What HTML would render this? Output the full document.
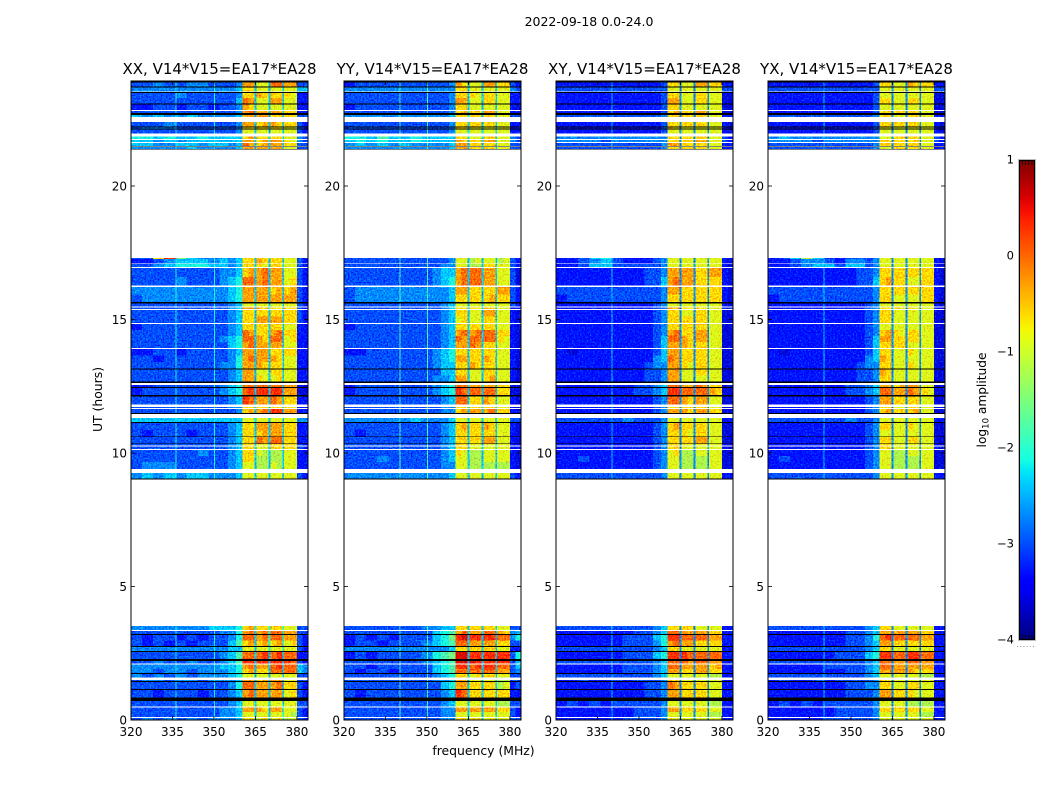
<!DOCTYPE html>
<html lang="en">
<head>
<meta charset="utf-8">
<title>2022-09-18 0.0-24.0</title>
<style>
html,body{margin:0;padding:0;background:#fff;}
#chart{display:block;font-family:"DejaVu Sans","Liberation Sans",sans-serif;fill:#000;}
</style>
</head>
<body>
<svg id="chart" xmlns="http://www.w3.org/2000/svg" width="1050" height="800" viewBox="0 0 1050 800">
<defs>
<filter id="grain" color-interpolation-filters="sRGB" x="0" y="0" width="100%" height="100%">
<feTurbulence type="fractalNoise" baseFrequency="0.62" numOctaves="1" seed="4" result="t"/>
<feColorMatrix in="t" type="matrix" values="0 0 0 0 0.5  1 0 0 0 0  0 0 0 0 0.5  0 0 0 0 1" result="g"/>
<feComposite in="SourceGraphic" in2="g" operator="arithmetic" k1="0" k2="1" k3="1.1" k4="-0.55" result="m"/>
<feComposite in="m" in2="SourceGraphic" operator="in"/>
</filter>
<linearGradient id="jet-gradient" x1="0" y1="1" x2="0" y2="0"></linearGradient>
</defs>
<text x="589" y="26" font-size="12.5" text-anchor="middle">2022-09-18 0.0-24.0</text>
<text x="0" y="0" font-size="12.4" text-anchor="middle" transform="translate(102,399.5) rotate(-90)">UT (hours)</text>
<text x="483.5" y="755" font-size="12.4" text-anchor="middle">frequency (MHz)</text>
<g id="panels"></g>
<g id="colorbar"></g>
<text font-size="12.2" text-anchor="middle" transform="translate(986,400) rotate(-90)">log<tspan font-size="8.5" dy="2.5">10</tspan><tspan dy="-2.5"> amplitude</tspan></text>
</svg>
<script>
// Axis data
const freqEdges=[320,324,328,332,336,340,344,348,352,355,358,360.4,362.5,364.7,365.4,367.6,369.8,370.5,372.6,374.7,375.4,377.7,380,382,384];
const utStart=[0,.11,.30,.50,.84,1.16,1.46,1.59,1.76,1.91,2.12,2.28,2.58,2.77,2.98,3.22,3.37,
9.05,9.40,9.66,9.89,10.15,10.29,10.36,10.62,10.86,11.16,11.50,11.69,11.82,12.17,12.47,12.67,12.90,13.17,13.41,13.65,13.93,14.16,14.38,14.61,14.87,15.11,15.39,15.48,15.66,15.94,16.27,16.59,16.97,17.10,17.26,
21.39,21.49,21.65,21.76,21.96,22.15,22.22,22.58,22.73,22.85,23.09,23.30,23.53,23.72];
const utEnd=[.07,.30,.47,.71,1.12,1.42,1.50,1.72,1.91,2.08,2.21,2.55,2.73,2.98,3.18,3.34,3.52,
9.25,9.66,9.89,10.12,10.25,10.34,10.59,10.86,11.12,11.32,11.64,11.72,12.12,12.43,12.55,12.90,13.13,13.41,13.65,13.90,14.16,14.38,14.61,14.83,15.11,15.36,15.45,15.60,15.94,16.22,16.59,16.93,17.08,17.26,17.30,
21.46,21.61,21.72,21.85,22.12,22.19,22.39,22.66,22.81,23.06,23.30,23.48,23.68,23.87];
const flagStart=[.71,1.12,1.42,1.72,2.21,2.55,2.73,3.18,9.01,10.34,10.59,11.12,11.46,12.12,12.43,12.63,13.13,15.60,21.36,21.46,22.12,22.19,22.66,23.06,23.48,23.68,23.87];
const flagEnd=[.84,1.16,1.46,1.76,2.28,2.58,2.77,3.22,9.05,10.36,10.62,11.16,11.50,12.17,12.47,12.67,13.17,15.66,21.39,21.48,22.15,22.22,22.73,23.09,23.52,23.72,23.93];
const xTicks=[320,335,350,365,380];
const yTicks=[0,5,10,15,20];
const colorbarTicks=[1,0,-1,-2,-3,-4];
const panelTitles=["XX, V14*V15=EA17*EA28","YY, V14*V15=EA17*EA28","XY, V14*V15=EA17*EA28","YX, V14*V15=EA17*EA28"];
const rfiXX=[336,350];
const rfiYY=[340,350];
const rfiXY=[340];
const rfiYX=[340];
// Amplitude levels: log10 amplitude = -3.9 + 0.3 * level. One row per UT bin, one value per frequency bin.
const ampXX=[
[3,4,3,4,3,4,3,4,4,4,5,11,11,5,10,11,5,10,11,6,9,10,3,2],
[3,3,3,3,3,3,3,3,4,4,5,10,10,5,10,10,5,10,10,6,10,9,3,2],
[3,3,3,3,3,3,3,3,4,4,5,12,12,5,12,11,5,12,12,6,10,10,3,2],
[3,3,3,3,3,3,3,3,3,4,5,10,10,5,10,10,5,10,10,5,10,10,3,3],
[3,3,2,3,3,3,2,3,3,4,5,12,13,5,12,12,5,12,12,5,10,11,3,2],
[3,3,3,3,3,3,3,3,3,4,6,13,13,5,12,12,5,12,13,5,11,11,3,2],
[3,4,4,3,4,4,3,4,4,4,5,12,12,5,11,12,5,12,12,5,10,10,3,3],
[4,3,4,3,4,3,4,4,4,5,6,10,10,5,10,10,5,10,10,5,10,10,3,3],
[4,4,3,4,4,3,4,4,4,5,6,11,12,5,11,11,5,13,13,5,13,13,5,4],
[4,4,4,4,4,4,4,4,5,5,6,12,13,5,12,12,5,13,14,5,13,13,5,4],
[3,3,4,3,3,4,3,3,4,5,7,14,14,5,14,14,5,14,14,5,14,13,3,2],
[3,3,3,3,3,3,3,3,4,5,7,13,13,5,13,14,5,13,14,5,13,13,2,2],
[4,4,4,4,4,4,4,4,4,5,5,10,10,5,10,10,6,10,10,6,10,10,3,2],
[3,2,3,2,3,2,3,3,3,5,7,11,12,5,11,12,6,11,12,6,10,11,3,2],
[3,2,3,3,2,3,2,3,3,4,6,13,13,5,12,13,6,13,13,6,12,12,3,2],
[3,3,3,3,3,3,3,3,4,4,6,12,13,5,12,13,6,13,13,6,12,12,3,3],
[4,4,4,4,4,4,4,5,5,5,6,11,12,6,11,11,6,11,11,6,10,10,3,3],
[4,5,4,5,4,5,5,4,4,4,5,10,10,5,10,10,5,10,10,5,10,10,3,2],
[3,4,4,4,3,3,3,3,3,4,5,10,10,5,9,9,5,10,9,5,10,10,2,2],
[3,3,3,3,3,3,3,3,3,4,5,11,11,5,9,9,5,9,9,5,10,10,2,2],
[3,3,3,3,3,3,4,3,3,4,5,11,11,5,10,9,5,9,9,5,10,10,2,2],
[3,3,3,3,3,3,3,3,3,4,5,11,11,5,10,10,5,11,11,5,11,11,3,2],
[3,3,3,3,3,3,3,3,3,4,5,11,11,5,10,10,5,11,11,5,11,11,3,2],
[3,3,3,3,3,3,3,3,3,4,5,11,11,5,13,12,5,13,13,5,11,11,2,2],
[3,2,3,3,3,2,3,3,3,4,5,11,11,5,11,12,5,12,12,5,11,11,2,2],
[3,3,3,3,3,3,3,3,3,4,5,11,11,5,12,12,5,12,12,5,11,11,2,2],
[5,5,5,5,5,5,5,5,5,5,5,10,10,5,10,10,5,10,10,5,10,10,4,4],
[3,3,3,3,3,3,3,3,3,3,4,11,12,5,12,13,5,14,14,5,12,12,2,2],
[3,3,3,3,3,3,3,3,3,4,4,11,11,5,11,11,5,11,11,5,11,10,2,2],
[3,3,3,3,3,3,3,3,3,4,5,14,13,5,12,12,5,13,12,5,11,11,2,2],
[2,3,3,3,3,3,3,3,4,5,6,13,14,5,14,14,5,14,14,5,12,12,1,1],
[2,2,3,3,3,3,3,3,4,5,6,13,13,5,13,13,5,13,13,5,12,12,2,1],
[3,3,3,3,3,3,3,3,3,4,5,12,12,5,11,10,5,10,11,5,10,10,2,2],
[3,3,3,3,3,3,3,3,3,4,5,12,12,5,10,10,5,11,11,5,10,10,2,2],
[3,3,3,3,3,3,3,3,4,4,6,12,12,5,12,11,5,11,11,5,10,10,2,2],
[3,3,2,3,3,3,3,3,3,4,6,12,13,5,12,12,5,12,11,5,10,10,2,2],
[2,2,3,3,2,3,3,3,3,4,5,12,12,5,12,12,5,11,11,5,11,11,2,2],
[3,3,3,3,3,3,3,3,3,5,6,12,13,5,12,12,5,12,12,5,10,10,2,2],
[3,3,3,3,3,3,3,3,4,5,6,13,13,5,12,11,5,13,13,5,10,11,2,2],
[3,3,3,3,3,3,3,3,3,4,5,13,12,5,11,11,5,12,13,5,11,11,2,2],
[2,3,3,3,3,3,3,3,3,4,5,11,11,5,11,11,5,11,11,5,10,10,2,2],
[3,3,3,3,3,3,3,3,3,4,5,11,11,5,12,12,5,12,12,5,11,11,3,2],
[3,3,3,3,3,3,3,3,3,4,5,11,11,5,11,11,5,11,11,5,11,11,3,2],
[3,3,3,3,3,3,3,3,3,4,5,12,12,5,12,11,5,11,11,5,11,11,3,2],
[3,3,3,3,3,3,3,3,3,4,5,10,10,5,10,10,5,10,10,5,10,10,3,2],
[3,4,4,4,4,4,4,4,4,5,6,12,12,5,12,12,5,12,12,5,12,12,3,2],
[4,4,4,4,4,4,4,4,4,5,6,12,12,5,12,12,5,11,12,5,11,12,3,2],
[3,3,3,3,4,3,3,3,4,5,6,13,13,5,12,13,5,12,12,5,10,11,3,2],
[3,3,3,3,3,3,3,3,4,4,5,11,12,5,12,13,5,12,12,5,10,10,3,2],
[3,3,4,5,6,6,6,5,5,4,5,11,11,5,11,10,5,11,11,5,10,10,3,2],
[2,2,3,4,5,5,5,4,5,4,5,11,11,5,12,11,5,11,11,5,10,10,3,2],
[3,3,11,14,8,5,4,4,5,4,5,11,11,5,11,11,5,11,11,5,10,10,3,2],
[4,4,4,4,4,5,4,4,4,4,5,12,12,5,12,12,5,12,12,5,10,10,3,3],
[5,5,4,4,5,5,4,5,5,4,5,13,12,5,11,12,5,12,12,5,11,11,3,3],
[5,5,4,5,4,5,5,5,5,5,5,12,12,5,11,12,5,12,12,5,11,10,4,3],
[6,6,5,6,5,5,6,5,5,5,5,11,12,5,11,11,5,11,11,5,10,10,4,3],
[3,3,3,3,3,3,3,3,3,3,4,10,10,5,10,10,5,10,10,5,10,10,3,2],
[3,4,4,4,3,3,3,3,3,3,4,11,11,5,11,11,5,11,11,5,10,10,3,2],
[3,3,3,4,3,3,3,3,3,3,4,12,12,5,11,12,5,12,11,5,11,11,3,2],
[5,4,5,4,4,5,4,4,4,4,5,12,12,5,12,12,5,11,11,5,11,11,3,3],
[3,3,3,3,3,3,3,3,3,3,4,12,13,5,12,12,5,12,12,5,11,11,2,2],
[2,2,3,3,2,3,3,2,3,3,4,12,11,5,10,10,5,10,10,5,10,10,2,2],
[3,3,3,3,3,3,3,3,3,3,5,13,12,5,10,10,5,12,12,5,10,10,2,2],
[3,3,3,3,4,3,3,3,3,3,4,11,11,5,12,11,5,11,11,5,11,10,2,2],
[4,4,4,4,4,4,4,4,4,4,5,11,11,5,10,10,5,10,10,5,10,10,5,5],
[3,3,4,3,3,4,4,3,3,3,4,12,12,5,10,10,5,13,13,5,12,12,3,3]
];
const ampYY=[
[3,3,3,3,3,3,3,3,3,4,4,11,11,5,11,11,5,10,11,5,10,10,3,3],
[3,3,3,3,3,3,3,3,3,4,4,10,10,5,10,10,5,10,10,5,10,10,3,2],
[3,3,3,3,3,3,3,3,3,4,4,12,12,5,12,12,5,12,12,5,11,11,3,2],
[3,3,3,3,3,3,3,3,3,4,5,10,10,5,10,10,5,10,10,5,9,9,3,3],
[3,2,3,3,3,3,3,3,3,4,5,14,13,5,11,11,5,11,11,5,11,11,2,2],
[3,3,3,3,3,3,3,3,3,5,6,12,12,5,11,11,5,11,11,5,9,10,2,3],
[3,3,3,3,3,3,3,3,4,4,5,12,12,5,10,10,5,10,10,5,9,9,3,3],
[3,3,3,3,3,3,3,3,4,5,6,11,11,5,10,11,5,11,11,5,10,10,3,3],
[3,2,3,3,2,3,3,3,5,6,7,13,13,5,13,13,5,13,13,5,12,12,3,4],
[3,3,2,3,3,3,3,3,5,6,7,14,14,5,13,14,5,14,14,5,13,13,3,5],
[3,3,3,3,3,3,3,4,5,6,7,15,15,5,15,14,5,14,14,5,14,14,3,5],
[2,3,2,3,3,3,3,4,6,7,8,15,15,5,14,14,5,14,14,5,14,14,3,6],
[4,4,4,4,4,4,4,4,4,4,5,11,11,5,11,11,5,11,11,5,10,10,2,2],
[2,3,3,2,3,3,3,4,5,6,7,13,13,5,12,12,5,12,12,5,11,11,3,3],
[2,3,2,3,2,3,3,3,5,6,8,14,15,5,14,14,5,14,14,5,13,13,4,6],
[3,3,3,3,3,3,3,3,5,6,7,12,13,5,12,12,5,13,13,5,12,11,4,5],
[3,3,3,3,3,3,3,4,4,5,5,11,11,5,11,11,5,11,11,5,10,10,3,3],
[4,4,4,4,4,4,4,4,4,4,5,10,10,5,10,10,5,10,10,5,10,10,3,2],
[3,3,3,3,3,3,3,3,3,4,4,10,10,5,9,9,5,9,9,5,9,9,2,1],
[3,3,3,4,3,3,3,3,3,4,5,10,10,5,9,9,5,10,10,5,10,10,2,1],
[3,3,3,3,3,3,3,3,3,4,5,11,10,5,9,9,5,10,10,5,10,10,2,1],
[3,3,3,3,3,3,3,3,3,4,5,11,11,5,10,10,5,10,10,5,10,10,2,2],
[3,3,3,3,3,3,3,3,3,4,5,11,11,5,10,10,5,10,10,5,10,10,2,2],
[3,3,3,3,3,3,3,3,3,4,5,11,11,5,11,11,5,12,12,5,10,10,2,1],
[3,2,3,3,3,3,3,3,3,4,5,11,11,5,11,11,5,11,11,5,10,10,2,1],
[3,3,3,3,3,3,3,3,3,4,5,11,12,5,11,11,5,12,11,5,10,10,2,1],
[4,4,4,4,4,4,5,4,4,4,5,10,10,5,10,10,5,10,10,5,10,10,3,3],
[3,3,3,3,3,3,3,3,3,4,4,11,12,5,12,12,5,12,13,5,11,11,2,1],
[3,3,3,3,3,3,3,3,3,4,4,11,11,5,11,11,5,11,11,5,10,10,2,1],
[3,3,3,3,3,3,3,3,3,4,5,13,13,5,11,11,5,12,11,5,10,10,2,1],
[2,3,3,3,3,3,3,3,4,5,6,14,13,5,13,13,5,13,13,5,11,11,1,1],
[2,3,3,3,3,3,3,3,4,5,6,13,13,5,12,12,5,12,12,5,11,11,1,1],
[3,3,3,3,3,3,3,3,4,4,5,12,12,5,10,10,5,11,12,5,10,10,2,1],
[3,3,3,3,3,3,3,3,3,5,5,11,11,5,10,10,5,11,11,5,10,10,2,1],
[3,3,3,3,3,3,3,3,4,5,5,11,11,5,12,11,5,11,11,5,10,10,2,1],
[3,3,3,3,3,3,3,3,4,5,6,12,12,5,11,11,5,12,11,5,10,10,2,1],
[2,2,3,3,3,3,3,3,4,5,6,11,11,5,11,11,5,11,11,5,10,10,2,1],
[3,3,3,3,3,3,3,3,3,4,5,12,12,5,13,12,5,11,11,5,10,10,2,1],
[3,3,3,3,3,3,3,3,3,4,5,13,12,5,13,13,5,13,13,5,11,10,2,1],
[3,3,3,3,3,3,3,3,3,4,5,12,13,5,12,13,5,13,13,5,11,11,2,1],
[2,3,3,3,3,3,3,3,3,4,5,11,11,5,11,11,5,11,11,5,10,10,2,1],
[3,3,3,3,3,3,3,3,3,4,5,10,11,5,10,10,5,11,11,5,10,10,2,1],
[3,3,3,3,3,3,3,3,3,4,5,11,11,5,10,10,5,12,12,5,10,10,2,1],
[3,3,3,3,3,3,3,3,3,4,5,11,11,5,11,11,5,11,11,5,10,10,2,2],
[3,3,3,3,3,3,3,3,3,4,5,10,10,5,10,10,5,10,10,5,10,10,3,2],
[3,4,4,4,4,4,4,4,4,4,5,11,11,5,11,11,5,11,12,5,11,11,3,2],
[3,4,4,4,4,4,4,4,4,4,5,12,12,5,11,11,5,11,11,5,12,12,3,2],
[3,3,3,3,3,3,3,3,4,5,6,12,13,5,13,13,5,12,12,5,10,10,3,1],
[3,3,3,3,3,3,3,3,4,5,5,12,13,5,13,13,5,12,12,5,10,10,3,1],
[3,3,3,3,3,3,3,3,3,4,4,10,10,5,9,9,5,11,11,5,10,10,3,2],
[3,3,3,3,3,3,3,3,3,3,4,10,10,5,9,10,5,10,10,5,9,10,3,2],
[3,3,3,3,3,3,3,3,3,3,4,10,10,5,9,10,5,10,10,5,9,10,3,2],
[4,4,4,4,4,4,4,4,4,4,5,12,12,5,11,11,5,11,11,5,10,10,3,3],
[4,5,4,5,4,5,4,4,4,4,5,12,12,5,11,11,5,11,11,5,10,10,3,3],
[5,6,5,6,5,5,6,5,5,5,5,12,11,5,11,11,5,12,12,5,10,10,4,3],
[6,6,5,7,5,5,6,5,5,5,5,11,11,5,10,10,5,11,11,5,10,10,4,3],
[3,3,3,3,3,3,3,3,3,3,4,10,10,5,10,10,5,10,10,5,10,10,2,2],
[3,3,3,3,3,3,3,3,3,3,4,11,11,5,10,10,5,10,10,5,10,10,2,2],
[3,3,3,3,3,3,3,3,3,3,4,11,11,5,11,11,5,11,11,5,10,10,2,2],
[4,4,4,4,4,4,4,4,4,4,5,11,11,5,11,11,5,11,11,5,10,10,3,3],
[3,3,3,3,3,3,3,3,3,3,4,11,12,5,11,11,5,12,12,5,10,10,2,2],
[2,3,3,3,3,3,3,3,3,3,4,11,11,5,10,10,5,10,10,5,10,10,2,1],
[3,3,3,3,3,3,3,3,3,3,4,12,12,5,10,10,5,11,11,5,10,10,2,2],
[3,3,3,3,3,3,3,3,3,3,4,11,11,5,11,10,5,11,11,5,10,10,2,2],
[4,4,4,4,4,4,4,4,4,4,4,11,11,5,10,10,5,10,10,5,10,10,4,3],
[2,3,3,3,3,3,3,3,3,3,4,12,11,5,10,10,5,12,12,5,11,11,3,2]
];
const ampXY=[
[2,2,2,2,2,2,3,3,3,3,4,11,10,4,10,10,4,10,10,4,10,10,2,2],
[2,2,2,2,2,2,2,3,3,3,4,10,10,4,10,10,4,10,10,4,9,9,2,2],
[2,2,2,2,2,2,2,3,3,3,4,12,12,4,11,11,4,11,11,4,10,10,2,2],
[2,3,2,3,2,3,3,3,3,3,4,10,10,4,10,10,4,10,10,4,9,9,2,2],
[2,2,2,2,2,2,2,2,3,3,4,12,12,4,11,11,4,11,11,4,10,10,2,2],
[2,2,2,2,2,2,2,2,3,3,4,13,12,4,11,11,4,11,11,4,10,10,2,2],
[2,2,3,2,2,3,2,3,3,3,4,11,11,4,10,10,4,10,10,4,10,10,2,2],
[3,3,3,3,3,3,3,3,3,4,5,10,10,4,10,10,4,10,10,4,9,9,2,2],
[2,2,2,2,2,2,3,3,3,4,5,12,12,4,11,11,4,12,12,4,11,11,2,2],
[2,2,2,2,2,2,3,3,3,4,5,13,13,4,12,12,4,12,12,4,11,12,2,2],
[3,3,3,3,3,3,3,3,3,4,5,13,13,4,13,12,4,13,13,4,12,12,2,2],
[2,2,2,2,2,2,3,3,3,5,6,14,14,4,14,13,4,13,13,4,13,13,2,2],
[3,3,3,3,3,3,3,3,3,4,5,11,11,4,10,10,4,10,10,4,10,10,2,2],
[2,2,2,2,2,2,3,3,3,4,6,12,13,4,12,12,4,11,11,4,11,11,2,2],
[2,2,2,2,2,2,3,3,3,5,6,14,14,4,13,13,4,13,13,4,12,12,2,2],
[2,2,2,2,2,2,2,3,3,4,5,13,13,4,12,12,4,12,12,4,11,11,2,2],
[3,3,3,3,3,3,3,3,3,4,5,11,11,4,11,11,4,10,10,4,10,10,2,2],
[3,3,3,3,3,3,3,3,3,3,4,10,10,4,10,10,4,10,10,4,10,10,2,2],
[2,2,2,2,2,2,2,2,2,3,4,10,10,4,9,9,4,9,9,4,10,10,1,1],
[2,2,3,2,2,2,2,2,2,3,4,10,10,4,9,9,4,9,9,4,10,10,1,1],
[2,2,2,2,2,2,2,2,2,3,4,10,11,4,9,9,4,10,10,4,10,10,1,1],
[2,2,2,2,2,2,2,2,2,3,4,11,11,4,10,10,4,10,10,4,10,10,2,1],
[2,2,2,2,2,2,2,2,2,3,4,11,11,4,10,10,4,10,10,4,10,10,2,1],
[2,2,2,2,2,2,2,2,2,3,4,11,11,4,11,11,4,12,12,4,10,10,1,1],
[2,2,2,2,2,2,2,2,2,3,4,11,11,4,11,10,4,11,11,4,10,10,1,1],
[2,2,2,2,2,2,2,2,2,3,4,11,12,4,11,11,4,11,11,4,10,10,1,1],
[3,3,3,3,3,3,4,3,3,3,4,10,10,4,10,10,4,10,10,4,10,10,2,2],
[2,2,2,2,2,2,2,2,2,3,4,12,12,4,12,11,4,12,12,4,11,11,1,1],
[2,2,2,2,2,2,2,2,2,3,4,11,11,4,11,11,4,11,11,4,10,10,1,1],
[2,2,2,2,2,2,2,2,2,3,4,13,13,4,12,11,4,12,12,4,10,10,1,1],
[2,2,2,2,2,2,2,3,3,4,5,14,14,4,13,13,4,13,13,4,12,11,1,1],
[2,2,2,2,2,2,2,3,3,4,5,13,13,4,12,12,4,13,12,4,11,11,1,1],
[2,2,2,2,2,2,2,2,3,3,4,12,12,4,10,10,4,10,10,4,10,10,1,1],
[2,2,2,2,2,2,2,2,3,3,4,12,12,4,10,10,4,11,11,4,10,10,1,1],
[2,2,2,2,2,2,2,2,3,4,4,12,12,4,11,10,4,11,11,4,10,10,1,1],
[2,2,2,2,2,2,2,2,2,4,5,13,12,4,11,11,4,11,11,4,10,10,1,1],
[2,1,2,2,2,2,2,2,2,3,5,12,12,4,11,11,4,11,11,4,10,10,1,1],
[2,2,2,2,2,2,2,2,2,3,5,12,12,4,12,11,4,11,11,4,10,10,1,1],
[2,2,2,2,2,2,2,2,2,3,5,13,13,4,12,11,4,12,12,4,10,10,1,1],
[2,2,2,2,2,2,2,2,2,3,4,12,13,4,11,11,4,12,12,4,10,10,1,1],
[2,2,2,2,2,2,2,2,2,3,4,11,11,4,11,11,4,11,11,4,10,10,1,1],
[2,2,2,2,2,2,2,2,2,3,4,11,11,4,11,11,4,11,11,4,10,10,1,1],
[2,2,2,2,2,2,2,2,2,3,4,11,11,4,10,10,4,11,11,4,10,10,1,1],
[2,2,2,2,2,2,2,2,2,3,4,12,12,4,11,11,4,11,11,4,10,10,2,1],
[2,2,2,2,2,2,2,2,2,3,4,10,10,4,10,10,4,10,10,4,10,10,2,1],
[2,3,3,3,3,3,3,3,3,3,4,11,11,4,11,11,4,11,11,4,11,11,2,1],
[3,3,3,3,3,3,3,3,3,3,4,12,12,4,11,11,4,11,11,4,11,11,2,1],
[2,2,2,2,2,2,2,2,3,3,5,12,13,4,12,12,4,11,11,4,11,11,2,1],
[2,2,2,2,2,2,2,2,3,3,4,12,12,4,12,12,4,11,11,4,12,12,2,1],
[2,2,3,5,5,3,3,3,3,3,4,10,10,4,10,10,4,10,10,4,10,10,2,1],
[2,2,3,4,5,3,2,2,2,3,4,10,10,4,10,10,4,10,10,4,10,10,2,1],
[2,2,3,5,6,3,2,2,2,3,4,10,10,4,10,10,4,10,10,4,10,10,2,1],
[3,3,3,3,3,3,3,3,3,3,4,11,11,4,11,11,4,11,11,4,10,10,2,2],
[3,3,3,3,3,3,3,3,3,3,4,12,12,4,11,11,4,11,11,4,10,10,2,2],
[4,4,4,4,3,4,4,4,4,4,4,11,11,4,11,11,4,12,12,4,10,10,3,2],
[4,4,4,4,4,4,4,4,4,4,4,11,11,4,11,11,4,11,11,4,10,10,3,2],
[2,2,2,2,2,2,2,2,2,2,3,10,10,4,10,10,4,10,10,4,10,10,2,1],
[2,2,2,2,2,2,2,2,2,2,3,11,11,4,10,10,4,10,10,4,10,10,2,1],
[2,2,2,2,2,2,2,2,2,2,3,11,11,4,11,11,4,11,11,4,10,10,2,1],
[3,3,3,3,3,3,3,3,3,3,4,11,11,4,11,11,4,11,11,4,10,10,2,2],
[2,2,2,2,2,2,2,2,2,2,3,11,12,4,11,11,4,12,12,4,10,10,1,1],
[2,2,2,2,2,2,2,2,2,2,3,11,11,4,10,10,4,10,10,4,10,10,1,1],
[2,2,2,2,2,2,2,2,2,2,3,12,12,4,10,10,4,11,11,4,10,10,1,1],
[2,2,2,2,2,2,2,2,2,2,3,11,11,4,10,10,4,11,11,4,10,10,1,1],
[3,3,3,3,3,3,3,3,3,3,3,10,10,4,10,10,4,10,10,4,10,10,3,3],
[2,2,2,2,2,2,2,2,2,2,3,11,11,4,10,10,4,12,12,4,11,11,2,2]
];
const ampYX=[
[2,2,2,2,2,3,3,3,3,3,4,10,10,4,10,10,4,10,10,4,10,10,2,2],
[2,2,2,2,2,2,3,3,3,3,4,10,10,4,10,10,4,10,10,4,9,9,2,2],
[2,2,2,2,2,2,3,3,3,3,4,11,11,4,11,11,4,11,11,4,10,10,2,2],
[2,3,2,3,2,3,3,3,3,3,4,10,10,4,10,10,4,9,9,4,9,9,2,2],
[2,2,2,2,2,2,2,3,3,3,4,12,12,4,11,11,4,11,10,4,10,10,2,2],
[2,2,2,2,2,2,2,3,3,4,4,11,11,4,10,10,4,11,11,4,10,10,2,2],
[2,3,2,2,3,2,3,3,3,3,4,11,11,4,10,10,4,10,10,4,10,10,2,2],
[3,3,3,3,3,3,3,3,3,4,5,10,10,4,10,10,4,10,10,4,9,9,2,2],
[2,2,2,2,2,2,2,3,3,4,5,12,12,4,12,12,4,12,11,4,11,11,2,2],
[2,2,2,2,2,3,3,3,3,4,5,13,13,4,12,12,4,12,12,4,12,12,2,2],
[3,3,3,3,3,3,3,3,3,4,5,13,13,4,12,12,4,13,13,4,12,12,2,2],
[2,2,2,2,2,2,3,3,3,5,6,14,14,4,13,13,4,14,14,4,13,13,2,2],
[3,3,3,3,3,3,3,3,3,4,5,11,11,4,10,10,4,10,10,4,10,10,2,2],
[2,2,2,2,2,2,2,3,3,4,5,12,12,4,11,11,4,11,11,4,11,11,2,2],
[2,2,2,2,2,2,2,3,3,4,6,13,14,4,13,13,4,13,13,4,12,12,2,2],
[2,2,2,2,2,2,2,3,3,4,5,12,12,4,12,12,4,12,12,4,11,11,2,2],
[3,3,3,3,3,3,3,3,3,4,5,11,11,4,10,10,4,10,10,4,10,10,2,2],
[3,3,3,3,3,3,3,3,3,3,4,10,10,4,10,10,4,10,10,4,10,10,2,2],
[2,2,2,2,2,2,2,2,2,3,4,10,10,4,9,9,4,9,9,4,10,10,1,1],
[2,3,2,2,2,2,2,2,2,3,4,10,10,4,9,9,4,9,9,4,10,10,1,1],
[2,2,2,2,2,2,2,2,2,3,4,10,10,4,9,9,4,10,10,4,10,10,1,1],
[2,2,2,2,2,2,2,2,2,3,4,11,11,4,10,10,4,10,10,4,10,10,2,1],
[2,2,2,2,2,2,2,2,2,3,4,11,11,4,10,10,4,10,10,4,10,10,2,1],
[2,2,2,2,2,2,2,2,2,3,4,11,11,4,10,10,4,11,11,4,10,10,1,1],
[2,2,2,2,2,2,2,2,2,3,4,10,10,4,10,10,4,10,10,4,10,10,1,1],
[2,2,2,2,2,2,2,2,2,3,4,11,11,4,10,10,4,11,10,4,10,10,1,1],
[3,3,3,3,3,3,3,4,3,3,4,10,10,4,10,10,4,10,10,4,10,10,2,2],
[2,2,2,2,2,2,2,2,2,3,4,11,12,4,11,11,4,11,12,4,10,10,1,1],
[2,2,2,2,2,2,2,2,2,3,4,11,11,4,10,10,4,11,11,4,10,10,1,1],
[2,2,2,2,2,2,2,2,2,3,4,12,12,4,11,11,4,11,11,4,10,10,1,1],
[2,2,2,2,2,2,2,3,3,4,5,13,13,4,12,12,4,13,12,4,11,10,1,1],
[2,2,2,2,2,2,2,3,3,4,5,12,12,4,11,12,4,12,12,4,10,10,1,1],
[2,2,2,2,2,2,2,2,3,3,4,11,11,4,10,10,4,10,10,4,10,10,1,1],
[2,2,2,2,2,2,2,2,3,3,4,12,11,4,10,10,4,10,10,4,10,10,1,1],
[2,2,2,2,2,2,2,2,3,4,4,11,11,4,10,10,4,11,10,4,10,10,1,1],
[2,2,2,2,2,2,2,2,2,4,5,12,11,4,10,10,4,10,10,4,10,10,1,1],
[2,1,2,2,2,2,2,2,2,3,5,11,11,4,10,10,4,11,10,4,10,10,1,1],
[2,2,2,2,2,2,2,2,2,3,5,11,11,4,11,11,4,10,10,4,10,10,1,1],
[2,2,2,2,2,2,2,2,2,3,5,12,12,4,11,11,4,11,11,4,10,10,1,1],
[2,2,2,2,2,2,2,2,2,3,4,11,12,4,11,10,4,11,11,4,10,10,1,1],
[2,2,2,2,2,2,2,2,2,3,4,10,10,4,10,10,4,10,10,4,10,10,1,1],
[2,2,2,2,2,2,2,2,2,3,4,11,11,4,10,10,4,10,10,4,10,10,1,1],
[2,2,2,2,2,2,2,2,2,3,4,11,11,4,10,10,4,10,10,4,10,10,1,1],
[2,2,2,2,2,2,2,2,2,3,4,11,11,4,11,10,4,11,10,4,10,10,2,1],
[2,2,2,2,2,2,2,2,2,3,4,10,10,4,10,10,4,10,10,4,10,10,2,1],
[2,3,3,3,3,3,3,3,3,3,4,11,11,4,10,10,4,10,10,4,11,11,2,1],
[3,3,3,3,3,3,3,3,3,3,4,11,11,4,11,11,4,11,11,4,11,11,2,1],
[2,2,2,2,2,2,2,2,3,3,5,11,12,4,11,11,4,10,10,4,11,11,2,1],
[2,2,2,2,2,2,2,2,3,3,4,11,11,4,11,11,4,11,11,4,11,11,2,1],
[2,2,3,4,5,5,3,5,5,3,4,10,10,4,10,10,4,10,10,4,10,10,2,1],
[2,2,3,4,4,3,2,4,4,3,4,10,10,4,10,10,4,10,10,4,10,10,2,1],
[2,3,5,9,5,3,2,3,3,3,4,10,10,4,10,10,4,10,10,4,10,10,2,1],
[3,3,3,3,3,3,3,3,3,3,4,10,10,4,11,11,4,11,11,4,10,10,2,2],
[3,3,3,3,3,3,3,3,3,3,4,11,11,4,11,11,4,11,11,4,10,10,2,2],
[4,4,4,4,3,4,4,4,4,4,4,11,11,4,11,11,4,11,11,4,10,10,3,2],
[4,5,4,4,4,4,4,4,4,4,4,10,10,4,11,11,4,11,11,4,10,10,3,2],
[2,2,2,2,2,2,2,2,2,2,3,10,10,4,10,10,4,10,10,4,10,10,2,1],
[2,2,2,2,2,2,2,2,2,2,3,10,10,4,10,10,4,10,10,4,10,10,2,1],
[2,2,2,2,2,2,2,2,2,2,3,11,11,4,11,11,4,11,11,4,10,10,2,1],
[3,3,3,3,3,3,3,3,3,3,4,11,11,4,10,10,4,11,11,4,10,10,2,2],
[2,2,2,2,2,2,2,2,2,2,3,11,11,4,11,11,4,11,11,4,10,10,1,1],
[2,2,2,2,2,2,2,2,2,2,3,10,10,4,10,10,4,10,10,4,10,10,1,1],
[2,2,2,2,2,2,2,2,2,2,3,11,11,4,10,10,4,11,11,4,10,10,1,1],
[2,2,2,2,2,2,2,2,2,2,3,10,10,4,10,10,4,10,10,4,10,10,1,1],
[3,3,3,3,3,3,3,3,3,3,3,10,10,4,10,10,4,10,10,4,10,10,3,3],
[2,2,2,2,2,2,2,2,2,2,3,11,11,4,10,10,4,12,11,4,11,11,2,2]
];
const panelAmp=[ampXX,ampYY,ampXY,ampYX];
const panelRfi=[rfiXX,rfiYY,rfiXY,rfiYX];
const rfiLevels=[6,7,5,5];

// Layout
const panelLefts=[131,344,556,768];
const panelWidth=177, plotTop=81, plotBottom=720, hourPx=26.7, mhzPx=177/64;
const NS='http://www.w3.org/2000/svg';
function mk(tag,attrs,parent){const e=document.createElementNS(NS,tag);for(const k in attrs)e.setAttribute(k,attrs[k]);parent.appendChild(e);return e;}
function uy(t){return plotBottom-t*hourPx;}
function fx(x0,f){return x0+(f-320)*mhzPx;}
function jet(fr){
  const pr=[[0,0],[.35,0],[.66,1],[.89,1],[1,.5]],pg=[[0,0],[.125,0],[.375,1],[.64,1],[.91,0],[1,0]],pb=[[0,.5],[.11,1],[.34,1],[.65,0],[1,0]];
  function seg(p){for(let i=1;i<p.length;i++)if(fr<=p[i][0]){const a=p[i-1],b=p[i];return a[1]+(b[1]-a[1])*(fr-a[0])/(b[0]-a[0]);}return p[p.length-1][1];}
  return 'rgb('+Math.round(seg(pr)*255)+','+Math.round(seg(pg)*255)+','+Math.round(seg(pb)*255)+')';
}
function levelColor(l){const logAmp=-3.9+0.3*l;return jet(Math.max(0,Math.min(1,(logAmp+4)/5)));}

const panelsRoot=document.getElementById('panels');
panelLefts.forEach(function(x0,p){
  const x1=x0+panelWidth;
  const g=mk('g',{},panelsRoot);
  
  
  const cells=mk('g',{filter:'url(#grain)','shape-rendering':'crispEdges'},g);
  
  
  const grid=panelAmp[p];
  grid.forEach(function(row,r){
    const yTop=uy(utEnd[r]), yBot=uy(utStart[r]);
    row.forEach(function(level,c){
      const xa=fx(x0,freqEdges[c]), xb=fx(x0,freqEdges[c+1]);
      const cell=mk('rect',{x:xa,y:yTop,width:xb-xa,height:yBot-yTop,fill:levelColor(level)},cells);
      
      
    });
    panelRfi[p].forEach(function(f){
      const line=mk('rect',{x:fx(x0,f),y:yTop,width:1,height:yBot-yTop,fill:levelColor(rfiLevels[p])},cells);
      
      
    });
  });
  flagStart.forEach(function(s,i){
    const f=mk('rect',{x:x0,y:uy(flagEnd[i]),width:panelWidth,height:uy(s)-uy(flagEnd[i]),fill:'#000','shape-rendering':'crispEdges'},g);
    
    
  });
  const frame=mk('rect',{x:x0,y:plotTop,width:panelWidth,height:plotBottom-plotTop,fill:'none',stroke:'#000','stroke-width':1},g);
  
  
  xTicks.forEach(function(v){
    const x=fx(x0,v);
    const a=mk('line',{x1:x,x2:x,y1:plotBottom,y2:plotBottom-4,stroke:'#000','stroke-width':.8},g);
    
    
    const b=mk('line',{x1:x,x2:x,y1:plotTop,y2:plotTop+4,stroke:'#000','stroke-width':.8},g);
    
    
    const t=mk('text',{x:x,y:736,'font-size':12,'text-anchor':'middle'},g);
    
    
    t.textContent=String(v);
  });
  yTicks.forEach(function(v){
    const y=uy(v);
    const a=mk('line',{x1:x0,x2:x0+4,y1:y,y2:y,stroke:'#000','stroke-width':.8},g);
    
    
    const b=mk('line',{x1:x1,x2:x1-4,y1:y,y2:y,stroke:'#000','stroke-width':.8},g);
    
    
    const t=mk('text',{x:x0-4,y:y+4.5,'font-size':12,'text-anchor':'end'},g);
    
    
    t.textContent=String(v);
  });
  const title=mk('text',{x:x0+panelWidth/2,y:74,'font-size':15,'text-anchor':'middle'},g);
  
  
  title.textContent=panelTitles[p];
});

// Colorbar
const cbLeft=1019, cbRight=1035, cbTop=160, cbBottom=640;
const grad=document.getElementById('jet-gradient');
for(let i=0;i<=40;i++){mk('stop',{offset:(i/40),'stop-color':jet(i/40)},grad);}
const cb=document.getElementById('colorbar');
const cbOuter=mk('rect',{x:cbLeft-.5,y:cbTop-.5,width:cbRight-cbLeft+1,height:cbBottom-cbTop+1,fill:'none',stroke:'#bbb','stroke-width':1},cb);


const cbFill=mk('rect',{x:cbLeft+.5,y:cbTop+.5,width:cbRight-cbLeft-1,height:cbBottom-cbTop-1,fill:'url(#jet-gradient)',stroke:'#000','stroke-width':1},cb);


[3.5,6.5,9.5,13].forEach(function(dx){
  const a=mk('line',{x1:cbLeft+dx,x2:cbLeft+dx,y1:cbTop+1,y2:cbTop+5,stroke:'#000','stroke-width':.7},cb);
  
  
  const b=mk('line',{x1:cbLeft+dx,x2:cbLeft+dx,y1:cbBottom-1,y2:cbBottom-5,stroke:'#000','stroke-width':.7},cb);
  
  
});
const cbDots=mk('line',{x1:1017,x2:1035,y1:646.5,y2:646.5,stroke:'#999','stroke-width':1,'stroke-dasharray':'1 2.2'},cb);


colorbarTicks.forEach(function(v){
  const y=cbBottom-(v+4)/5*(cbBottom-cbTop);
  const t=mk('text',{x:1014,y:y+3.5,'font-size':11.5,'text-anchor':'end'},cb);
  
  
  t.textContent=v<0?'\u2212'+Math.abs(v):String(v);
});
</script>
</body>
</html>
